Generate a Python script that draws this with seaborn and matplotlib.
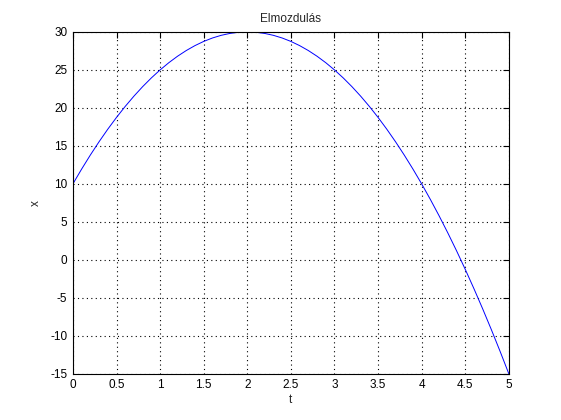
import numpy as np
import matplotlib
matplotlib.use("Agg")
import matplotlib.pyplot as plt
import seaborn as sns
import pandas as pd

# ============================================================
# DATA
# ============================================================

t_values = [
    0.0, 0.1, 0.2, 0.3, 0.4, 0.5, 0.6, 0.7, 0.8, 0.9,
    1.0, 1.1, 1.2, 1.3, 1.4, 1.5, 1.6, 1.7, 1.8, 1.9,
    2.0, 2.1, 2.2, 2.3, 2.4, 2.5, 2.6, 2.7, 2.8, 2.9,
    3.0, 3.1, 3.2, 3.3, 3.4, 3.5, 3.6, 3.7, 3.8, 3.9,
    4.0, 4.1, 4.2, 4.3, 4.4, 4.5, 4.6, 4.7, 4.8, 4.9,
    5.0,
]

x_values = [
    10.0, 11.95, 13.8, 15.55, 17.2, 18.75, 20.2, 21.55, 22.8, 23.95,
    25.0, 25.95, 26.8, 27.55, 28.2, 28.75, 29.2, 29.55, 29.8, 29.95,
    30.0, 29.95, 29.8, 29.55, 29.2, 28.75, 28.2, 27.55, 26.8, 25.95,
    25.0, 23.95, 22.8, 21.55, 20.2, 18.75, 17.2, 15.55, 13.8, 11.95,
    10.0, 7.95, 5.8, 3.55, 1.2, -1.25, -3.8, -6.45, -9.2, -12.05,
    -15.0,
]

x_ticks = [0, 0.5, 1, 1.5, 2, 2.5, 3, 3.5, 4, 4.5, 5]
y_ticks = [-15, -10, -5, 0, 5, 10, 15, 20, 25, 30]

df = pd.DataFrame({"t": t_values, "x": x_values})

# ============================================================
# PLOT
# ============================================================

sns.set_style("white")
plt.rcParams["font.family"] = ["Liberation Sans", "DejaVu Sans"]
plt.rcParams["font.size"] = 8
plt.rcParams["axes.unicode_minus"] = False

fig = plt.figure(figsize=(5.61, 4.20), dpi=100, facecolor="white")
ax = fig.add_axes([0.13, 0.11, 0.777, 0.814])

sns.lineplot(data=df, x="t", y="x", ax=ax, color="blue", linewidth=0.7)

ax.set_xlim(0, 5)
ax.set_ylim(-15, 30)
ax.set_xticks(x_ticks)
ax.set_xticklabels([f"{v:g}" for v in x_ticks])
ax.set_yticks(y_ticks)

ax.grid(True, color="black", linestyle=(0, (1, 3)), linewidth=0.8)
ax.tick_params(direction="in", length=4, width=0.8, colors="black",
               labelsize=8.5, top=True, right=True, pad=4)
for side in ax.spines.values():
    side.set_visible(True)
    side.set_color("black")
    side.set_linewidth(0.8)

ax.set_xlabel("t", fontsize=8.5, labelpad=2)
ax.set_ylabel("x", fontsize=8.5, labelpad=6)
ax.set_title("Elmozdulás", fontsize=8.5, pad=7)

fig.savefig("out.png", dpi=100, facecolor="white")
